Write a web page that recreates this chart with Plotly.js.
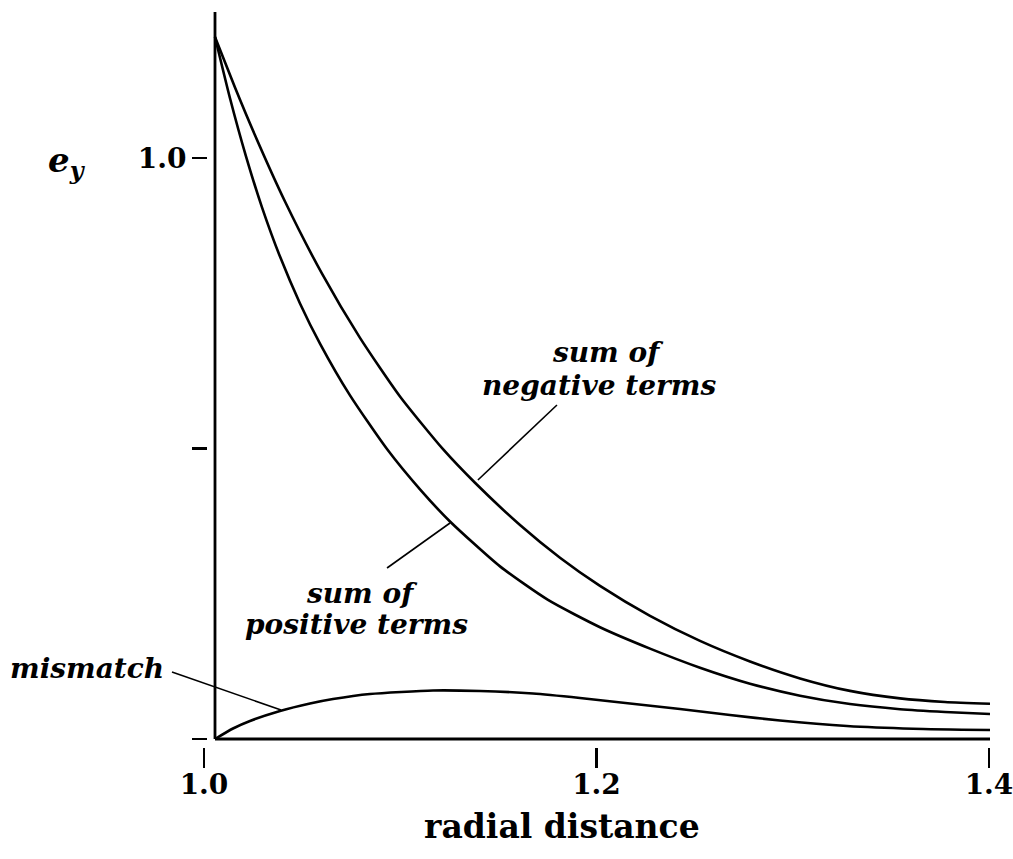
<!DOCTYPE html>
<html>
<head>
<meta charset="utf-8">
<script src="https://cdn.plot.ly/plotly-3.0.1.min.js"></script>
<style>html,body{margin:0;padding:0;background:#fff;}#chart{width:1013px;height:859px;}</style>
</head>
<body>
<div id="chart"></div>
<script>
// radial distance values and e_y values
const xNegative = [1.0, 1.01032, 1.02065, 1.03613, 1.05523, 1.07484, 1.09548, 1.11768, 1.13419, 1.15742,
                   1.17806, 1.19871, 1.22452, 1.25032, 1.27613, 1.30194, 1.32774, 1.35355, 1.37677, 1.4];
const yNegative = [1.2083, 1.1212, 1.0391, 0.9251, 0.8009, 0.6904, 0.5895, 0.4988, 0.4410, 0.3683,
                   0.3120, 0.2635, 0.2119, 0.1688, 0.1334, 0.1043, 0.0828, 0.0699, 0.0637, 0.0606];

const xPositive = [1.0, 1.00774, 1.01600, 1.02426, 1.03355, 1.04387, 1.05419, 1.06968, 1.08877, 1.10581, 1.12129,
                   1.14710, 1.17187, 1.19871, 1.22452, 1.25032, 1.27613, 1.30194, 1.32774, 1.35355, 1.37677, 1.4];
const yPositive = [1.2083, 1.1029, 1.0029, 0.9151, 0.8303, 0.7497, 0.6806, 0.5914, 0.4990, 0.4296, 0.3744,
                   0.2971, 0.2394, 0.1924, 0.1556, 0.1227, 0.0952, 0.0745, 0.0601, 0.0513, 0.0465, 0.0429];

const xMismatch = [1.0, 1.00929, 1.01806, 1.03355, 1.04903, 1.06090, 1.08000, 1.11252, 1.13677, 1.16413,
                   1.18839, 1.21419, 1.24000, 1.26581, 1.29161, 1.32619, 1.36026, 1.4];
const yMismatch = [0.0, 0.0181, 0.0310, 0.0482, 0.0611, 0.0688, 0.0775, 0.0835, 0.0826, 0.0783,
                   0.0706, 0.0611, 0.0516, 0.0413, 0.0318, 0.0224, 0.0177, 0.0155];

const xTickVals = [1.0, 1.2, 1.4];
const xTickText = ['1.0', '1.2', '1.4'];
const yTickMarks = [0, 0.5, 1.0];
const yLabelVals = [1.0];
const yLabelText = ['1.0'];

const serif = 'DejaVu Serif, Liberation Serif, serif';
const curveLine = {color: '#000', width: 2.6, shape: 'spline', smoothing: 0.6};

const traces = [
  {x: xNegative, y: yNegative, mode: 'lines', line: curveLine, name: 'sum of negative terms', xaxis: 'x', yaxis: 'y', hoverinfo: 'skip'},
  {x: xPositive, y: yPositive, mode: 'lines', line: curveLine, name: 'sum of positive terms', xaxis: 'x', yaxis: 'y', hoverinfo: 'skip'},
  {x: xMismatch, y: yMismatch, mode: 'lines', line: curveLine, name: 'mismatch', xaxis: 'x', yaxis: 'y', hoverinfo: 'skip'},
  {x: xTickVals, y: [null, null, null], mode: 'lines', xaxis: 'x2', yaxis: 'y', hoverinfo: 'skip', showlegend: false},
  {x: xTickVals, y: [null, null, null], mode: 'lines', xaxis: 'x', yaxis: 'y2', hoverinfo: 'skip', showlegend: false}
];

const tickFont = {family: serif, size: 28, color: '#000', weight: 'bold'};
const labelFont = {family: serif, size: 28, color: '#000', weight: 'bold', style: 'italic'};
const yRange = [-0.01377, 1.2513];

const layout = {
  width: 1013, height: 859,
  margin: {l: 0, r: 23, t: 12, b: 112},
  paper_bgcolor: '#fff', plot_bgcolor: '#fff',
  showlegend: false,
  xaxis: {range: [0.889032, 1.4], visible: false, fixedrange: true},
  xaxis2: {
    overlaying: 'x', anchor: 'y', side: 'bottom',
    range: [0.896051, 1.400510],
    tickmode: 'array', tickvals: xTickVals, ticktext: xTickText,
    ticks: 'outside', ticklen: 20, tickwidth: 2.2, tickcolor: '#000',
    showline: false, showgrid: false, zeroline: false,
    tickfont: tickFont, ticklabelstandoff: -8, ticklabeloverflow: 'allow'
  },
  yaxis: {
    range: yRange, anchor: 'free', position: 207 / 990,
    tickmode: 'array', tickvals: yTickMarks, showticklabels: false,
    ticks: 'outside', ticklen: 15, tickwidth: 2.4, tickcolor: '#000',
    showline: false, showgrid: false, zeroline: false
  },
  yaxis2: {
    overlaying: 'y', range: yRange, anchor: 'free', position: 207 / 990, side: 'left',
    tickmode: 'array', tickvals: yLabelVals, ticktext: yLabelText,
    ticks: 'outside', ticklen: 15, tickwidth: 1, tickcolor: 'rgba(0,0,0,0)',
    showline: false, showgrid: false, zeroline: false,
    tickfont: tickFont
  },
  shapes: [
    // axis frame lines
    {type: 'line', xref: 'x', yref: 'y', x0: 1.0, x1: 1.0, y0: 0, y1: 1.2513, line: {color: '#000', width: 2.8}},
    {type: 'line', xref: 'x', yref: 'y', x0: 1.0, x1: 1.4, y0: 0, y1: 0, line: {color: '#000', width: 2.8}},
    // leader lines
    {type: 'line', xref: 'x', yref: 'y', x0: 1.1765, y0: 0.5749, x1: 1.1357, y1: 0.4458, line: {color: '#000', width: 1.6}},
    {type: 'line', xref: 'x', yref: 'y', x0: 1.1213, y0: 0.3718, x1: 1.0888, y1: 0.2943, line: {color: '#000', width: 1.6}},
    {type: 'line', xref: 'x', yref: 'y', x0: 0.9778, y0: 0.1153, x1: 1.0341, y1: 0.0499, line: {color: '#000', width: 1.6}}
  ],
  annotations: [
    {xref: 'x', yref: 'y', x: 1.2028, y: 0.6644, text: 'sum of', showarrow: false, font: labelFont},
    {xref: 'x', yref: 'y', x: 1.1982, y: 0.6093, text: 'negative terms', showarrow: false, font: labelFont},
    {xref: 'x', yref: 'y', x: 1.0759, y: 0.2513, text: 'sum of', showarrow: false, font: labelFont},
    {xref: 'x', yref: 'y', x: 1.0728, y: 0.1979, text: 'positive terms', showarrow: false, font: labelFont},
    {xref: 'x', yref: 'y', x: 0.9339, y: 0.1222, text: 'mismatch', showarrow: false, font: labelFont},
    {xref: 'x', yref: 'y', x: 0.9236, y: 0.9931, text: '<b><i>e</i></b><sub><b><i>y</i></b></sub>', showarrow: false,
     font: {family: serif, size: 34, color: '#000', weight: 'bold', style: 'italic'}},
    {xref: 'x', yref: 'paper', x: 1.1791, y: -0.1088, yanchor: 'middle', text: 'radial distance', showarrow: false,
     font: {family: serif, size: 33, color: '#000', weight: 'bold'}}
  ]
};

Plotly.newPlot('chart', traces, layout, {displayModeBar: false, staticPlot: true});
</script>
</body>
</html>
